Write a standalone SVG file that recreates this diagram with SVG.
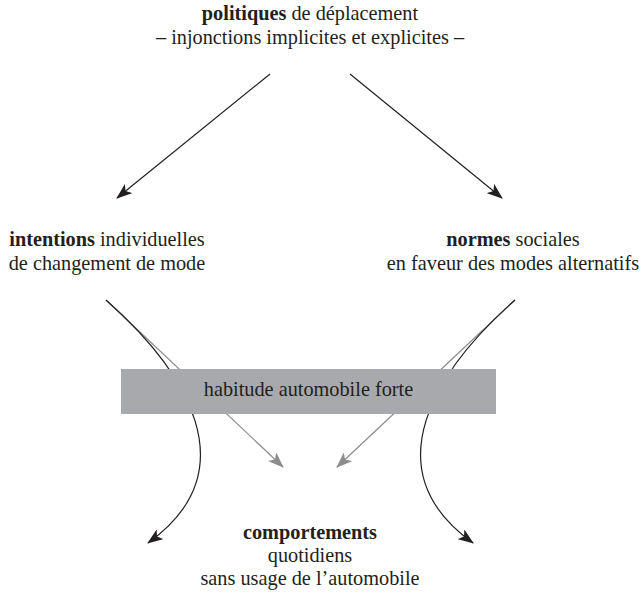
<svg xmlns="http://www.w3.org/2000/svg" width="641" height="595" viewBox="0 0 641 595">
<style>
text{font-family:"Liberation Serif","DejaVu Serif",serif;font-size:20.3px;fill:#231f20;text-anchor:middle}
.b{font-weight:bold}
.k{fill:none;stroke:#231f20;stroke-width:1.2}
.g{fill:none;stroke:#8c8c8c;stroke-width:1.2}
</style>
<defs>
<marker id="ak" viewBox="0 0 16 12" refX="15" refY="6" markerWidth="16" markerHeight="12" markerUnits="userSpaceOnUse" orient="auto"><path d="M0,0 L16,6 L0,12 L4,6 Z" fill="#231f20"/></marker>
<marker id="ag" viewBox="0 0 16 12" refX="15" refY="6" markerWidth="16" markerHeight="12" markerUnits="userSpaceOnUse" orient="auto"><path d="M0,0 L16,6 L0,12 L4,6 Z" fill="#8c8c8c"/></marker>
</defs>
<g id="connectors">
<line class="k" x1="270" y1="74" x2="117" y2="198" marker-end="url(#ak)"/>
<line class="k" x1="350" y1="74" x2="502" y2="198" marker-end="url(#ak)"/>
<line class="g" x1="106" y1="300" x2="283" y2="467" marker-end="url(#ag)"/>
<line class="g" x1="515" y1="300" x2="337" y2="467" marker-end="url(#ag)"/>
<path class="k" d="M106,300 C185,370 250,470 148,543" marker-end="url(#ak)"/>
<path class="k" d="M515,300 C436,370 371,470 473,543" marker-end="url(#ak)"/>
</g>
<g id="politiques"><text x="310" y="20"><tspan class="b">politiques</tspan> de déplacement</text><text x="310" y="44">– injonctions implicites et explicites –</text></g>
<g id="intentions"><text x="107" y="246"><tspan class="b">intentions</tspan> individuelles</text><text x="107" y="270">de changement de mode</text></g>
<g id="normes"><text x="513" y="246"><tspan class="b">normes</tspan> sociales</text><text x="513" y="270">en faveur des modes alternatifs</text></g>
<g id="habitude"><rect x="121" y="369" width="375" height="45" fill="#a7a9ac"/><text x="308.5" y="396">habitude automobile forte</text></g>
<g id="comportements"><text x="310" y="539" class="b">comportements</text><text x="310" y="562">quotidiens</text><text x="310" y="585">sans usage de l’automobile</text></g>
</svg>
